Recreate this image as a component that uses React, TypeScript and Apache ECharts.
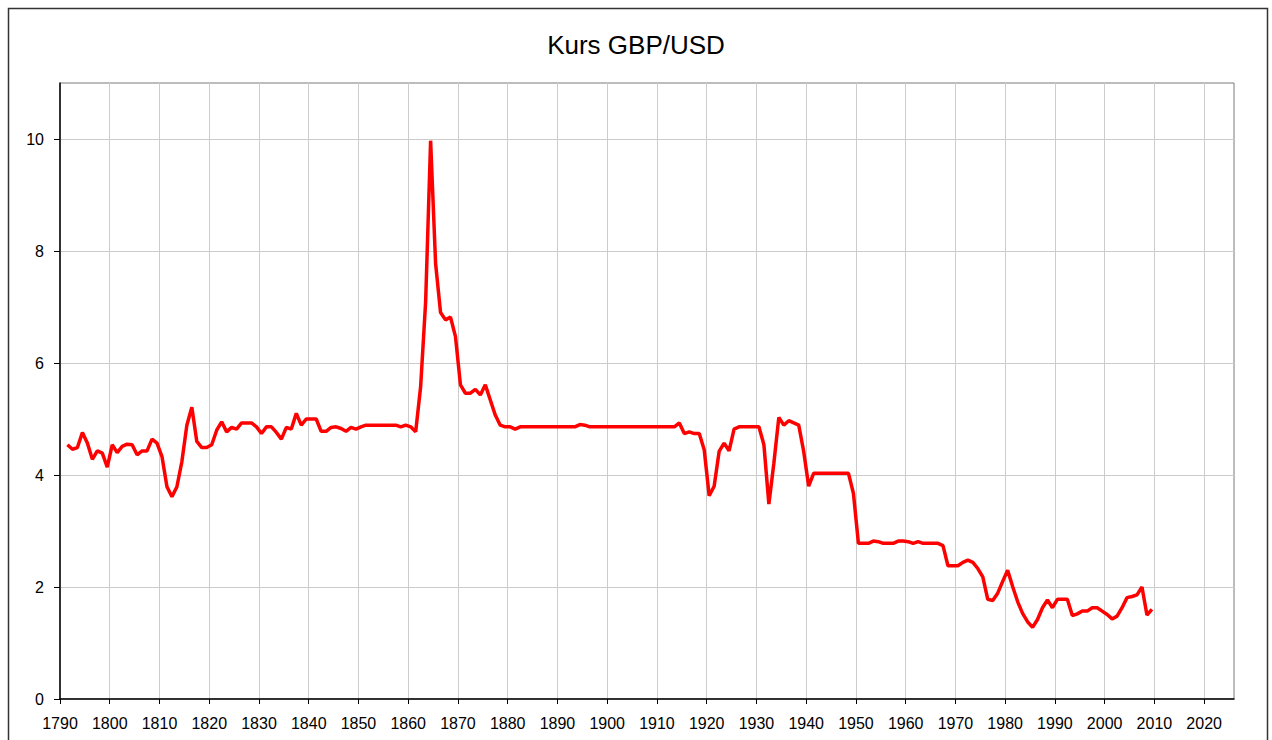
import React, { useEffect, useRef } from "react";
import * as echarts from "echarts";

const title = "Kurs GBP/USD";
const firstYear = 1791;
const rates: number[] = [
  // 1791-1800
  4.54, 4.46, 4.49, 4.76, 4.57, 4.28, 4.43, 4.39, 4.14, 4.54,
  // 1801-1810
  4.40, 4.51, 4.55, 4.54, 4.36, 4.43, 4.43, 4.64, 4.57, 4.33,
  // 1811-1820
  3.79, 3.61, 3.79, 4.24, 4.89, 5.21, 4.60, 4.49, 4.49, 4.54,
  // 1821-1830
  4.80, 4.95, 4.77, 4.85, 4.82, 4.93, 4.93, 4.93, 4.86, 4.74,
  // 1831-1840
  4.86, 4.86, 4.76, 4.64, 4.85, 4.82, 5.10, 4.89, 5.00, 5.00,
  // 1841-1850
  5.00, 4.78, 4.78, 4.85, 4.86, 4.83, 4.78, 4.85, 4.82, 4.86,
  // 1851-1860
  4.89, 4.89, 4.89, 4.89, 4.89, 4.89, 4.89, 4.86, 4.89, 4.86,
  // 1861-1870
  4.77, 5.58, 7.09, 9.97, 7.78, 6.90, 6.77, 6.82, 6.47, 5.61,
  // 1871-1880
  5.46, 5.46, 5.53, 5.43, 5.61, 5.34, 5.07, 4.89, 4.86, 4.86,
  // 1881-1890
  4.82, 4.86, 4.86, 4.86, 4.86, 4.86, 4.86, 4.86, 4.86, 4.86,
  // 1891-1900
  4.86, 4.86, 4.86, 4.90, 4.89, 4.86, 4.86, 4.86, 4.86, 4.86,
  // 1901-1910
  4.86, 4.86, 4.86, 4.86, 4.86, 4.86, 4.86, 4.86, 4.86, 4.86,
  // 1911-1920
  4.86, 4.86, 4.86, 4.93, 4.74, 4.77, 4.74, 4.74, 4.45, 3.63,
  // 1921-1930
  3.80, 4.42, 4.57, 4.43, 4.82, 4.86, 4.86, 4.86, 4.86, 4.86,
  // 1931-1940
  4.54, 3.48, 4.21, 5.03, 4.89, 4.97, 4.93, 4.89, 4.42, 3.80,
  // 1941-1950
  4.03, 4.03, 4.03, 4.03, 4.03, 4.03, 4.03, 4.03, 3.67, 2.78,
  // 1951-1960
  2.78, 2.78, 2.82, 2.81, 2.78, 2.78, 2.78, 2.82, 2.82, 2.81,
  // 1961-1970
  2.78, 2.81, 2.78, 2.78, 2.78, 2.78, 2.74, 2.38, 2.38, 2.38,
  // 1971-1980
  2.44, 2.48, 2.44, 2.33, 2.18, 1.78, 1.76, 1.89, 2.10, 2.30,
  // 1981-1990
  2.01, 1.74, 1.53, 1.38, 1.28, 1.42, 1.63, 1.77, 1.63, 1.78,
  // 1991-2000
  1.78, 1.78, 1.49, 1.52, 1.57, 1.57, 1.63, 1.63, 1.57, 1.51,
  // 2001-2009
  1.43, 1.48, 1.63, 1.81, 1.83, 1.86, 2.00, 1.50, 1.60,
];
const years: number[] = rates.map((_, i) => firstYear + i);
const xTicks: number[] = [1790, 1800, 1810, 1820, 1830, 1840, 1850, 1860, 1870, 1880, 1890, 1900, 1910, 1920, 1930, 1940, 1950, 1960, 1970, 1980, 1990, 2000, 2010, 2020];
const yTicks: number[] = [0, 2, 4, 6, 8, 10];

export default function App() {
  const ref = useRef<HTMLDivElement>(null);
  useEffect(() => {
    if (!ref.current) return;
    const chart = echarts.init(ref.current, undefined, { renderer: "svg" });
    // annual values are placed at mid-year
    const data = years.map((y, i) => [y + 0.5, rates[i]]);
    const font = "'Liberation Sans', Arial, sans-serif";
    chart.setOption({
      animation: false,
      backgroundColor: "#ffffff",
      title: {
        text: title,
        left: "center",
        top: 27,
        textStyle: { fontFamily: font, fontSize: 26, fontWeight: "normal", color: "#000" },
      },
      graphic: [
        {
          type: "rect",
          shape: { x: 8.5, y: 8.5, width: 1259, height: 800 },
          style: { fill: "none", stroke: "#333", lineWidth: 1.5 },
          silent: true,
        },
      ],
      grid: {
        left: 60,
        top: 83,
        right: 38,
        bottom: 41,
        show: true,
        borderColor: "#7a7a7a",
        borderWidth: 1,
        containLabel: false,
      },
      xAxis: {
        type: "value",
        min: 1790,
        max: 2026,
        interval: 10,
        axisLine: { show: true, onZero: false, lineStyle: { color: "#000", width: 1.5 } },
        axisTick: { show: true, length: 5, customValues: xTicks, lineStyle: { color: "#000" } },
        axisLabel: {
          customValues: xTicks,
          formatter: (v: number) => (xTicks.includes(v) ? String(v) : ""),
          fontFamily: font,
          fontSize: 16,
          color: "#000",
          margin: 16,
        },
        splitLine: { show: true, lineStyle: { color: "#cccccc", width: 1 } },
      },
      yAxis: {
        type: "value",
        min: 0,
        max: 11,
        interval: 2,
        axisLine: { show: true, lineStyle: { color: "#000", width: 1.5 } },
        axisTick: { show: true, length: 6, customValues: yTicks, lineStyle: { color: "#000" } },
        axisLabel: {
          customValues: yTicks,
          formatter: (v: number) => (yTicks.includes(v) ? String(v) : ""),
          fontFamily: font,
          fontSize: 16,
          color: "#000",
          margin: 16,
        },
        splitLine: { show: true, lineStyle: { color: "#cccccc", width: 1 } },
      },
      series: [
        {
          type: "line",
          data,
          showSymbol: false,
          symbol: "none",
          lineStyle: { color: "#ff0000", width: 3.5 },
          itemStyle: { color: "#ff0000" },
        },
      ],
    });
    return () => chart.dispose();
  }, []);
  return (
    <div
      ref={ref}
      style={{ position: "absolute", left: 0, top: 0, width: 1272, height: 740, background: "#fff" }}
    />
  );
}
